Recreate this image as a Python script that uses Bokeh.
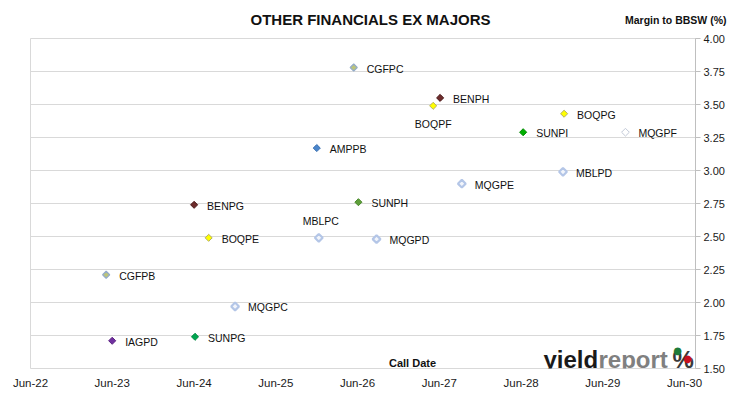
from datetime import datetime
import pandas as pd
from bokeh.plotting import figure
from bokeh.models import (ColumnDataSource, Range1d, FixedTicker, DatetimeTickFormatter,
                          PrintfTickFormatter, Label, Title)
from bokeh.core.properties import value
from bokeh.embed import file_html
from bokeh.resources import INLINE

# ---------------- data ----------------
names = ["CGFPC", "BENPH", "BOQPF", "BOQPG", "SUNPI", "MQGPF", "AMPPB", "MBLPD", "MQGPE",
         "BENPG", "SUNPH", "MBLPC", "BOQPE", "MQGPD", "CGFPB", "MQGPC", "IAGPD", "SUNPG"]
call_dates = ["2026-05-15", "2027-06-05", "2027-05-05", "2028-12-10", "2028-06-10", "2029-09-10",
              "2025-12-01", "2028-12-05", "2027-09-10", "2024-06-01", "2026-06-05", "2025-12-10",
              "2024-08-05", "2026-08-25", "2023-05-05", "2024-12-01", "2023-06-01", "2024-06-05"]
margins = [3.78, 3.55, 3.49, 3.43, 3.29, 3.29, 3.17, 2.99, 2.90,
           2.74, 2.76, 2.49, 2.49, 2.48, 2.21, 1.97, 1.71, 1.74]
issuer_style = ["cgf", "ben", "boq", "boq", "sun_bright", "mqg_hollow", "amp", "mbl_light", "mbl_light",
                "ben", "sun_olive", "mbl_light", "boq", "mbl_light", "cgf", "mbl_light", "iag", "sun"]
label_side = ["right", "right", "below", "right", "right", "right", "right", "right", "right",
              "right", "right", "above", "right", "right", "right", "right", "right", "right"]
tick_years = list(range(2022, 2031))
y_ticks = [1.50, 1.75, 2.00, 2.25, 2.50, 2.75, 3.00, 3.25, 3.50, 3.75, 4.00]
title_text = "OTHER FINANCIALS EX MAJORS"
y_title = "Margin to BBSW (%)"
x_title = "Call Date"

# ---------------- styles ----------------
STYLES = {
    "cgf":        dict(fill="#BCC47A", line="#93ABC9", size=5, lw=1.2),
    "ben":        dict(fill="#6E2C2C", line="#4A1818", size=5, lw=1.0),
    "boq":        dict(fill="#FFFF00", line="#B5B060", size=5, lw=1.0),
    "sun_bright": dict(fill="#00B000", line="#008A00", size=5, lw=1.0),
    "sun":        dict(fill="#00A650", line="#008A40", size=5, lw=1.0),
    "sun_olive":  dict(fill="#5E9E3A", line="#4A8A2A", size=5, lw=1.0),
    "mqg_hollow": dict(fill="#FFFFFF", line="#C3CAD8", size=5.5, lw=1.0),
    "amp":        dict(fill="#4A86CC", line="#3A70B0", size=5, lw=1.0),
    "mbl_light":  dict(fill="#F2F5FB", line="#B4C6E7", size=5.5, lw=2.2),
    "iag":        dict(fill="#7030A0", line="#5A2080", size=5, lw=1.0),
}
OFFS = {"right": (13, 1, "left"), "below": (0, 18, "center"), "above": (2, -17, "center")}

src = ColumnDataSource(dict(
    x=pd.to_datetime(call_dates),
    y=margins,
    name=names,
    fill=[STYLES[s]["fill"] for s in issuer_style],
    line=[STYLES[s]["line"] for s in issuer_style],
    size=[STYLES[s]["size"] for s in issuer_style],
    lw=[STYLES[s]["lw"] for s in issuer_style],
    xo=[OFFS[s][0] for s in label_side],
    yo=[OFFS[s][1] for s in label_side],
    ta=[OFFS[s][2] for s in label_side],
))

FONT = "Liberation Sans"

p = figure(width=728, height=397, x_axis_type="datetime", y_axis_location="right",
           output_backend="svg", toolbar_location=None,
           min_border_left=30, min_border_right=33, min_border_top=38, min_border_bottom=29)
p.x_range = Range1d(datetime(2022, 6, 1), datetime(2030, 7, 20))
p.y_range = Range1d(1.5, 4.0)
p.background_fill_color = "white"
p.border_fill_color = "white"
p.outline_line_color = "#D9D9D9"
p.outline_line_width = 1

# header texts: inner panel (nearest frame) = chart title, outer = y-axis caption pulled down
p.add_layout(Title(text=title_text, align="left", offset=220, vertical_align="top", standoff=18,
                   text_font=FONT, text_font_style="bold", text_font_size="15px",
                   text_color="#111111"), "above")
p.add_layout(Title(text=y_title, align="right", offset=-31, vertical_align="bottom", standoff=-48,
                   text_font=FONT, text_font_style="bold", text_font_size="10.5px",
                   text_color="#111111"), "above")

# axes
xa = p.xaxis[0]
xa.ticker = FixedTicker(ticks=[datetime(y, 6, 1).timestamp() * 1000 for y in tick_years])
xa.formatter = DatetimeTickFormatter(days="%b-%y", months="%b-%y", years="%b-%y")
xa.axis_line_color = None
xa.major_tick_line_color = None
xa.minor_tick_line_color = None
xa.major_tick_out = 0
xa.minor_tick_out = 0
xa.major_label_text_font = FONT
xa.major_label_text_font_size = "11.5px"
xa.major_label_text_color = "#1a1a1a"
xa.major_label_standoff = 8

ya = p.yaxis[0]
ya.ticker = FixedTicker(ticks=y_ticks)
ya.formatter = PrintfTickFormatter(format="%.2f")
ya.axis_line_color = "#BFBFBF"
ya.major_tick_line_color = "#BFBFBF"
ya.major_tick_in = 0
ya.major_tick_out = 5
ya.minor_tick_line_color = None
ya.minor_tick_out = 0
ya.major_label_text_font = FONT
ya.major_label_text_font_size = "11px"
ya.major_label_text_color = "#1a1a1a"
ya.major_label_standoff = 3

p.xgrid.grid_line_color = None
p.ygrid.grid_line_color = "#D9D9D9"
p.ygrid.ticker = FixedTicker(ticks=y_ticks)

p.scatter("x", "y", source=src, marker="square", angle=0.785398, size="size",
          fill_color="fill", line_color="line", line_width="lw")
p.text("x", "y", text="name", source=src, x_offset="xo", y_offset="yo", text_align="ta",
       text_baseline="middle", text_font=value(FONT), text_font_size="10.5px", text_color="#111111")


# in-frame annotations (screen units relative to the plot frame's bottom-left)
def lab(x, y, text, size, color="#111111", bold=True, align="center", baseline="middle", font=FONT):
    p.add_layout(Label(x=x, y=y, x_units="screen", y_units="screen", text=text,
                       text_font=font, text_font_style="bold" if bold else "normal",
                       text_font_size=size, text_align=align, text_baseline=baseline,
                       text_color=color))


lab(382, 6, x_title, "11px")
lab(513, 9, "yield", "24px", color="#1a1a1a", align="left", baseline="alphabetic")
lab(568, 9, "report", "24px", color="#808080", align="left", baseline="alphabetic")
lab(642, 9, "%", "24px", color="#3a3a3a", align="left", baseline="alphabetic")
lab(647, 18, "\u25CF", "10px", color="#1E7B3A", bold=False, font="DejaVu Sans")
lab(657, 10, "\u25CF", "10px", color="#C8101E", bold=False, font="DejaVu Sans")

open("out.html", "w").write(file_html(p, INLINE))
